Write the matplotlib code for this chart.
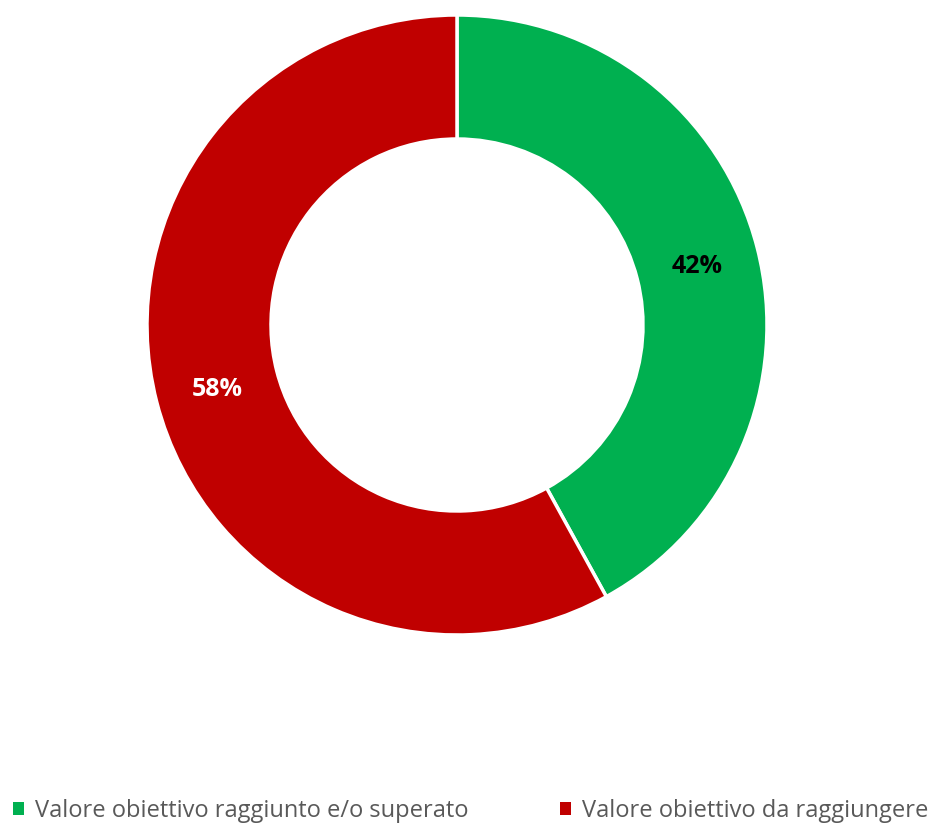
import matplotlib.pyplot as plt
from matplotlib.patches import Patch

labels = ["Valore obiettivo raggiunto e/o superato", "Valore obiettivo da raggiungere"]
values = [42, 58]
colors = ["#00B050", "#C00000"]
pct_colors = ["black", "white"]

W, H = 932, 823
fig = plt.figure(figsize=(W / 100, H / 100), dpi=100)
ax = fig.add_axes([0, 0, 1, 1])

wedges, texts, autotexts = ax.pie(
    values, colors=colors, startangle=90, counterclock=False,
    center=(457, H - 325), radius=310, frame=True,
    wedgeprops=dict(width=124, edgecolor="white", linewidth=2.5),
    autopct="%d%%", pctdistance=0.8,
    textprops=dict(fontsize=18, fontweight="bold", family="Open Sans"))
for t, c in zip(autotexts, pct_colors):
    t.set_color(c)
    x, y = t.get_position()
    t.set_position((x, y - 3))
ax.set_xlim(0, W)
ax.set_ylim(0, H)
ax.set_aspect("equal")
ax.axis("off")

handles = [Patch(facecolor=c, edgecolor="none") for c in colors]
leg = fig.legend(handles, labels, loc="lower center", bbox_to_anchor=(0.505, -0.026),
                 ncol=2, frameon=False, handlelength=0.45, handleheight=0.45,
                 handletextpad=0.45, columnspacing=3.9,
                 prop=dict(family="Open Sans", size=17))
for t in leg.get_texts():
    t.set_color("#595959")

fig.savefig("out.png", dpi=100)
